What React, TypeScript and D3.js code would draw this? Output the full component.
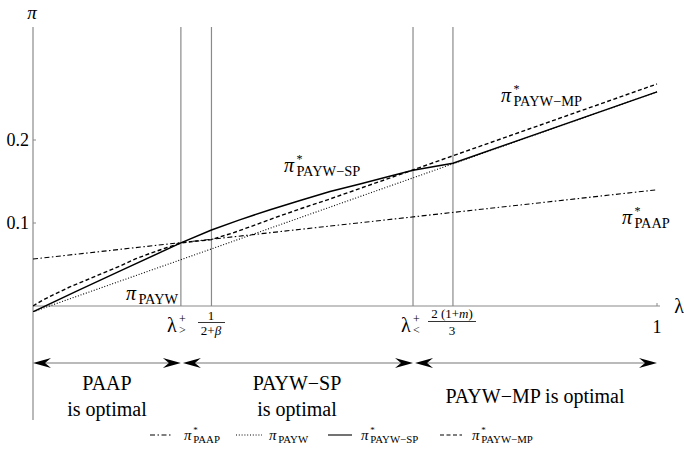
import React from "react";
import * as d3 from "d3";

// ---- data ----
const paapLambda = [0, 1];
const paapPi = [0.0566, 0.14];

const paywLambda = [0, 1];
const paywPi = [-0.007, 0.258];

const spLambda = [0, 0.07, 0.139, 0.237, 0.286, 0.33, 0.38, 0.428, 0.476, 0.524, 0.57, 0.609, 0.673, 1];
const spPi = [-0.007, 0.018, 0.042, 0.076, 0.0916, 0.1035, 0.116, 0.127, 0.138, 0.147, 0.156, 0.1635, 0.172, 0.258];

const mpLambda = [0, 0.015, 0.03, 0.059, 0.085, 0.107, 0.139, 0.165, 0.19, 0.215, 0.237, 0.26, 0.286, 0.32, 0.35, 0.39, 0.428, 0.476, 0.609, 0.673, 1];
const mpPi = [0, 0.0068, 0.0125, 0.023, 0.031, 0.038, 0.048, 0.057, 0.064, 0.0705, 0.076, 0.078, 0.08, 0.088, 0.096, 0.107, 0.117, 0.129, 0.164, 0.181, 0.2675];

const criticalLambda = [0.237, 0.286, 0.609, 0.673];
const yTicks = [0.1, 0.2];
const yTickLabels = ["0.1", "0.2"];
const regionBounds = [0, 0.237, 0.609, 1];

const W = 684;
const H = 452;
const x = d3.scaleLinear().domain([0, 1]).range([33, 657]);
const y = d3.scaleLinear().domain([0, 0.2]).range([306, 140]);

const FONT = "Liberation Serif, Times New Roman, Times, DejaVu Serif, serif";

const line = d3
  .line<[number, number]>()
  .x((d) => x(d[0]))
  .y((d) => y(d[1]))
  .curve(d3.curveLinear);

const zip = (a: number[], b: number[]) => a.map((v, i) => [v, b[i]] as [number, number]);

const styles = {
  paap: { dash: "5,2.5,1.5,2.5" },
  payw: { dash: "1,1.8" },
  sp: { dash: undefined as string | undefined },
  mp: { dash: "4,2.5" },
};

function arrowHead(tipX: number, tipY: number, dir: number) {
  const L = 18;
  const h = 5;
  const n = 12;
  return `M${tipX},${tipY} L${tipX - dir * L},${tipY - h} L${tipX - dir * n},${tipY} L${tipX - dir * L},${tipY + h} Z`;
}

function PiLabel({
  px,
  py,
  sub,
  star,
  size,
}: {
  px: number;
  py: number;
  sub: string;
  star: boolean;
  size: number;
}) {
  const subSize = size * 0.72;
  const starSize = size * 0.6;
  const piW = size * 0.62;
  return (
    <g style={{ fontFamily: FONT }}>
      <text x={px} y={py} fontSize={size} fontStyle="italic">
        π
      </text>
      {star && (
        <text x={px + piW} y={py - size * 0.45} fontSize={starSize}>
          *
        </text>
      )}
      <text x={px + piW} y={py + size * 0.22} fontSize={subSize}>
        {sub}
      </text>
    </g>
  );
}

export default function App() {
  const series = [
    { key: "paap", d: zip(paapLambda, paapPi), dash: styles.paap.dash, w: 1.1 },
    { key: "payw", d: zip(paywLambda, paywPi), dash: styles.payw.dash, w: 1.1 },
    { key: "mp", d: zip(mpLambda, mpPi), dash: styles.mp.dash, w: 1.4 },
    { key: "sp", d: zip(spLambda, spPi), dash: styles.sp.dash, w: 1.5 },
  ];
  const arrowY = 363;
  const legendY = 435;
  const legend = [
    { x0: 150, x1: 173, tx: 184, dash: styles.paap.dash, sub: "PAAP", star: true },
    { x0: 236, x1: 262, tx: 269, dash: styles.payw.dash, sub: "PAYW", star: false },
    { x0: 328, x1: 352, tx: 361, dash: styles.sp.dash, sub: "PAYW−SP", star: true },
    { x0: 440, x1: 462, tx: 472, dash: styles.mp.dash, sub: "PAYW−MP", star: true },
  ];
  return (
    <svg
      width={W}
      height={H}
      style={{ position: "absolute", left: 0, top: 0, background: "#fff", fontFamily: FONT }}
    >
      <defs>
        <clipPath id="plotClip">
          <rect x={x(0)} y={27} width={x(1) - x(0) + 1} height={312 - 27} />
        </clipPath>
      </defs>
      <rect x={0} y={0} width={W} height={H} fill="#fff" />

      {/* vertical critical lines */}
      {criticalLambda.map((l, i) => (
        <line key={i} x1={x(l)} x2={x(l)} y1={27} y2={y(0)} stroke="#8a8a8a" strokeWidth={1.2} />
      ))}

      {/* axes */}
      <line x1={x(0)} x2={x(0)} y1={27} y2={420} stroke="#8a8a8a" strokeWidth={1.2} />
      <line x1={x(0)} x2={660} y1={y(0)} y2={y(0)} stroke="#8a8a8a" strokeWidth={1.2} />
      {yTicks.map((t, i) => (
        <g key={i}>
          <line x1={x(0)} x2={x(0) + 3} y1={y(t)} y2={y(t)} stroke="#8a8a8a" />
          <text x={29} y={y(t) + 6} fontSize={18} textAnchor="end">
            {yTickLabels[i]}
          </text>
        </g>
      ))}
      <line x1={x(1)} x2={x(1)} y1={y(0)} y2={y(0) - 3} stroke="#8a8a8a" />
      <text x={x(1)} y={333} fontSize={18} textAnchor="middle">
        1
      </text>
      <text x={32} y={19} fontSize={19} textAnchor="middle" fontStyle="italic">
        π
      </text>
      <text x={679} y={313} fontSize={20} textAnchor="middle">
        λ
      </text>

      {/* curves */}
      <g clipPath="url(#plotClip)">
        {series.map((s) => (
          <path
            key={s.key}
            d={line(s.d) || ""}
            fill="none"
            stroke="#000"
            strokeWidth={s.w}
            strokeDasharray={s.dash}
          />
        ))}
      </g>

      {/* x-axis special labels */}
      <g>
        <text x={167} y={332} fontSize={20}>λ</text>
        <text x={179} y={323} fontSize={12}>+</text>
        <text x={179} y={334} fontSize={12}>&gt;</text>
        <text x={211} y={320} fontSize={13} textAnchor="middle">1</text>
        <line x1={198} x2={225} y1={322.5} y2={322.5} stroke="#000" strokeWidth={0.8} />
        <text x={211} y={335} fontSize={13} textAnchor="middle">
          2+<tspan fontStyle="italic">β</tspan>
        </text>

        <text x={401} y={332} fontSize={20}>λ</text>
        <text x={413} y={323} fontSize={12}>+</text>
        <text x={413} y={334} fontSize={12}>&lt;</text>
        <text x={452} y={318} fontSize={13} textAnchor="middle">
          2 (1+<tspan fontStyle="italic">m</tspan>)
        </text>
        <line x1={428} x2={476} y1={321.5} y2={321.5} stroke="#000" strokeWidth={0.8} />
        <text x={452} y={335} fontSize={13} textAnchor="middle">3</text>
      </g>

      {/* curve labels */}
      <PiLabel px={126} py={300} sub="PAYW" star={false} size={20} />
      <PiLabel px={284} py={172} sub="PAYW−SP" star={true} size={20} />
      <PiLabel px={501} py={102} sub="PAYW−MP" star={true} size={20} />
      <PiLabel px={622} py={224} sub="PAAP" star={true} size={20} />

      {/* optimal regions arrows */}
      {regionBounds.slice(0, -1).map((b, i) => {
        const a0 = x(b) + (i === 0 ? 0 : 2);
        const a1 = x(regionBounds[i + 1]);
        return (
          <g key={i}>
            <line x1={a0 + 10} x2={a1 - 10} y1={arrowY} y2={arrowY} stroke="#777" strokeWidth={1.1} />
            <path d={arrowHead(a0, arrowY, -1)} fill="#000" />
            <path d={arrowHead(a1, arrowY, 1)} fill="#000" />
          </g>
        );
      })}
      <g fontSize={20} textAnchor="middle">
        <text x={107} y={390}>PAAP</text>
        <text x={107} y={416}>is optimal</text>
        <text x={297} y={390}>PAYW−SP</text>
        <text x={297} y={416}>is optimal</text>
        <text x={535} y={403}>PAYW−MP is optimal</text>
      </g>

      {/* legend */}
      {legend.map((l, i) => (
        <g key={i}>
          <line x1={l.x0} x2={l.x1} y1={legendY} y2={legendY} stroke="#000" strokeWidth={1.1} strokeDasharray={l.dash} />
          <PiLabel px={l.tx} py={440} sub={l.sub} star={l.star} size={15} />
        </g>
      ))}
    </svg>
  );
}
